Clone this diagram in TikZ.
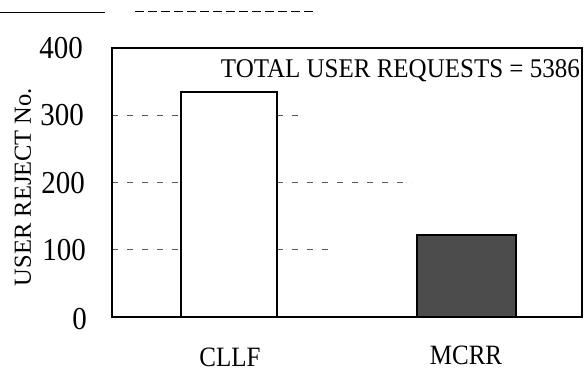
\documentclass[tikz,border=0pt]{standalone}
\usepackage{fontspec}
\setmainfont{Liberation Serif}
\usepackage{tikz}
\usetikzlibrary{positioning}

\begin{document}
\begin{tikzpicture}[x=1pt, y=1pt,
    tick/.style={anchor=east, font=\fontsize{29}{29}\selectfont, inner sep=0pt, yscale=1.1},
    barname/.style={anchor=base, font=\fontsize{25}{25}\selectfont, inner sep=0pt, yscale=1.12},
    gridline/.style={black!65, line width=0.9pt, dash pattern=on 6pt off 9pt},
    frame/.style={line width=2.1pt, line join=miter}]
    \useasboundingbox (0,0) rectangle (584,371);

    % header rule from the scanned page
    \draw [line width=1pt] (0,358) -- (105,358);
    \draw [line width=0.8pt, dash pattern=on 9pt off 4pt] (135,360) -- (317,360);

    % axis labels
    \node[tick] at (83,323) (t400) {400};
    \node[tick] at (84,256) (t300) {300};
    \node[tick] at (85,188) (t200) {200};
    \node[tick] at (86,121) (t100) {100};
    \node[tick] at (87,52)  (t0)   {0};
    \node[rotate=90, inner sep=0pt, font=\fontsize{24.5}{24.5}\selectfont] at (23,184) (ylab) {USER REJECT No.};

    \begin{scope}[shift={(112,54)}, y=0.6725pt]
        \draw [gridline] (0,300) -- (193,300);
        \draw [gridline] (0,200) -- (300,200);
        \draw [gridline] (0,100) -- (221,100);

        \draw [frame, fill=white] (69,0) rectangle (165,335);
        \draw [frame, fill=black!70] (305,0) rectangle (404,122);
        \draw [frame] (0,0) rectangle (470,400);

        \node[barname] at (118,-73) (cllf) {CLLF};
        \node[barname] at (354,-71) (mcrr) {MCRR};
    \end{scope}

    \node[anchor=base east, inner sep=0pt, yscale=1.08, font=\fontsize{25}{25}\selectfont] at (580,293) (total) {TOTAL USER REQUESTS = 5386};
\end{tikzpicture}
\end{document}
